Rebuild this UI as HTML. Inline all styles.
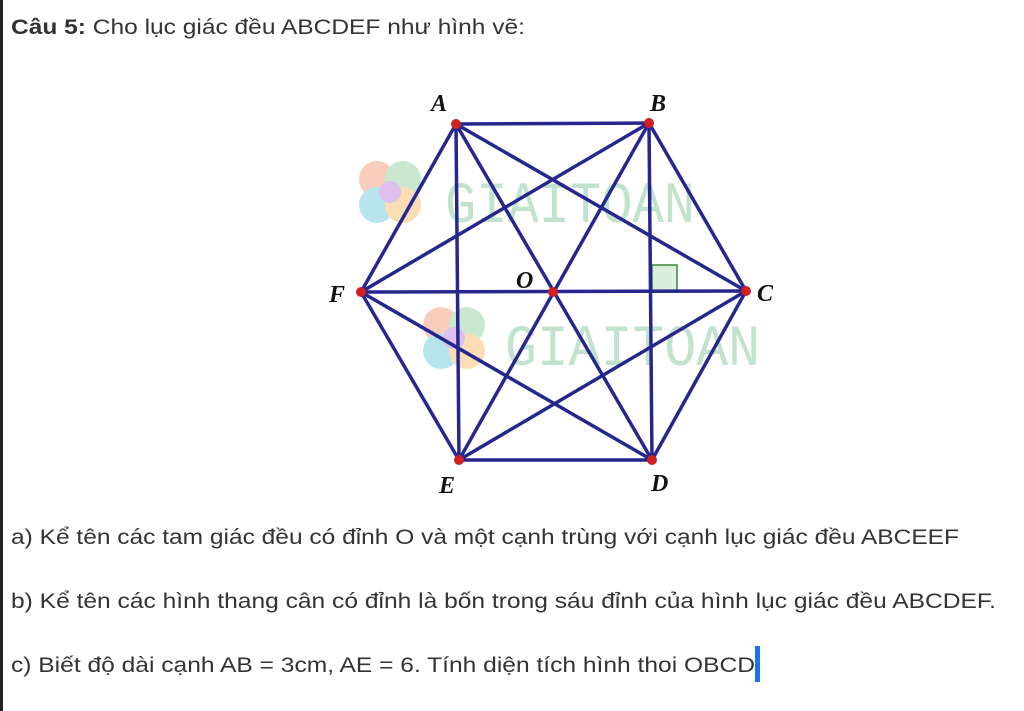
<!DOCTYPE html>
<html><head><meta charset="utf-8"><style>
html,body{margin:0;padding:0;background:#fff;}
svg{display:block;}
</style></head><body>
<svg width="1024" height="711" viewBox="0 0 1024 711" xmlns="http://www.w3.org/2000/svg">
<rect x="0" y="0" width="1024" height="711" fill="#fff"/>
<rect x="0" y="0" width="3" height="711" fill="#222"/>
<g font-family="Liberation Sans, sans-serif" font-size="21" fill="#333">
<text x="11" y="34" textLength="514" lengthAdjust="spacingAndGlyphs"><tspan font-weight="bold">Câu 5:</tspan> Cho lục giác đều ABCDEF như hình vẽ:</text>
<text x="11" y="544" textLength="948" lengthAdjust="spacingAndGlyphs">a) Kể tên các tam giác đều có đỉnh O và một cạnh trùng với cạnh lục giác đều ABCEEF</text>
<text x="11" y="608" textLength="985" lengthAdjust="spacingAndGlyphs">b) Kể tên các hình thang cân có đỉnh là bốn trong sáu đỉnh của hình lục giác đều ABCDEF.</text>
<text x="11" y="672" textLength="744" lengthAdjust="spacingAndGlyphs">c) Biết độ dài cạnh AB = 3cm, AE = 6. Tính diện tích hình thoi OBCD</text>
</g>
<rect x="755" y="646" width="5" height="36" fill="#1a73e8"/>
<g opacity="0.55">
<circle cx="377" cy="179" r="18" fill="#f4a58a"/><circle cx="403" cy="179" r="18" fill="#9fd6a8"/>
<circle cx="377" cy="205" r="18" fill="#7fd0e0"/><circle cx="403" cy="205" r="18" fill="#f6c27a"/>
<circle cx="390" cy="192" r="11" fill="#c48ee0"/>
<text x="445" y="222" font-family="Liberation Mono, monospace" font-size="58" fill="#8fcca4" textLength="250" lengthAdjust="spacingAndGlyphs">GIAITOAN</text>
<circle cx="441" cy="325" r="18" fill="#f4a58a"/><circle cx="467" cy="325" r="18" fill="#9fd6a8"/>
<circle cx="441" cy="351" r="18" fill="#7fd0e0"/><circle cx="467" cy="351" r="18" fill="#f6c27a"/>
<circle cx="454" cy="338" r="11" fill="#c48ee0"/>
<text x="505" y="365" font-family="Liberation Mono, monospace" font-size="58" fill="#8fcca4" textLength="255" lengthAdjust="spacingAndGlyphs">GIAITOAN</text>
</g>
<rect x="652" y="265" width="25" height="26" fill="#dcefdc" stroke="#3a8a3a" stroke-width="1.5"/>
<g stroke="#26268f" stroke-width="3.5" fill="none" stroke-linecap="round">
<polygon points="456,124 649,123 746,291 652,460 459,460 361,292"/>
<line x1="456" y1="124" x2="746" y2="291"/>
<line x1="456" y1="124" x2="459" y2="460"/>
<line x1="456" y1="124" x2="652" y2="460"/>
<line x1="649" y1="123" x2="361" y2="292"/>
<line x1="649" y1="123" x2="652" y2="460"/>
<line x1="649" y1="123" x2="459" y2="460"/>
<line x1="746" y1="291" x2="361" y2="292"/>
<line x1="746" y1="291" x2="459" y2="460"/>
<line x1="652" y1="460" x2="361" y2="292"/>
</g>
<g fill="#d02020">
<circle cx="456" cy="124" r="5"/><circle cx="649" cy="123" r="5"/><circle cx="746" cy="291" r="5"/>
<circle cx="652" cy="460" r="5"/><circle cx="459" cy="460" r="5"/><circle cx="361" cy="292" r="5"/>
<circle cx="553" cy="292" r="5"/>
</g>
<g font-family="Liberation Serif, serif" font-weight="bold" font-style="italic" font-size="24" fill="#111">
<text x="431" y="111">A</text>
<text x="650" y="111">B</text>
<text x="757" y="301">C</text>
<text x="651" y="491">D</text>
<text x="439" y="493">E</text>
<text x="329" y="302">F</text>
<text x="516" y="288">O</text>
</g>
</svg>
</body></html>
